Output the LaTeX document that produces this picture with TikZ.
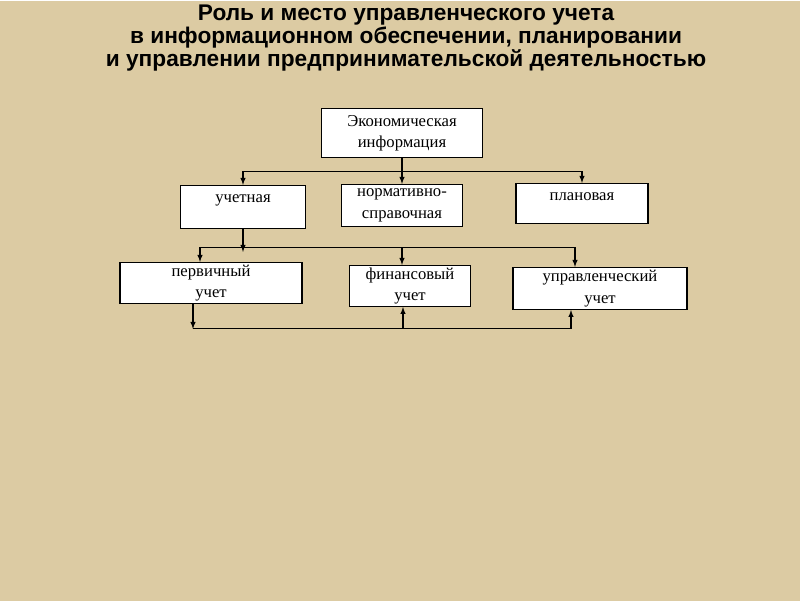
\documentclass[tikz,border=0pt]{standalone}
\usepackage{fontspec}
\setmainfont{Liberation Serif}
\newfontfamily\titlefont{Liberation Sans}
\usetikzlibrary{positioning}
\definecolor{paper}{HTML}{DCCBA3}
\begin{document}
\begin{tikzpicture}[x=0.75pt, y=-0.75pt, box/.style={draw, thick, fill=white, inner sep=0pt, align=center, font=\fontsize{12.5}{16}\selectfont}, arr/.style={thick, -latex}]
        \fill[paper] (0,0) rectangle (800,600);
        \node[align=center, font=\titlefont\bfseries\fontsize{17}{17.5}\selectfont] (title) at (406,37) {Роль и место управленческого учета\\в информационном обеспечении, планировании\\и управлении  предпринимательской деятельностью};

        \node[box, minimum width=0.75*161pt, minimum height=0.75*49pt] (econ) at (402,132) {Экономическая\\информация};
        \node[box, minimum width=0.75*125pt, minimum height=0.75*43pt, anchor=north] (acc) at (243,184) {\raisebox{12pt}{учетная}};
        \node[box, minimum width=0.75*121pt, minimum height=0.75*42pt, anchor=north] (norm) at (402,183) {нормативно-\\справочная};
        \node[box, minimum width=0.75*132pt, minimum height=0.75*40pt, anchor=north] (plan) at (582,182) {\raisebox{10pt}{плановая}};
        \node[box, minimum width=0.75*182pt, minimum height=0.75*41pt, anchor=north] (prim) at (211,261) {первичный\\учет};
        \node[box, minimum width=0.75*121pt, minimum height=0.75*41pt, anchor=north] (fin) at (410,264) {финансовый\\учет};
        \node[box, minimum width=0.75*174pt, minimum height=0.75*42pt, anchor=north] (mgmt) at (600,266) {управленческий\\учет};

        \coordinate (c1) at (402,171);
        \coordinate (c2) at (243,247);
        \coordinate (c3) at (193,328);
        \draw[thick] (econ) -- (c1);
        \draw[arr] (c1) -| (acc.north);
        \draw[arr] (c1) -- (norm);
        \draw[arr] (c1) -| (plan.north);
        \draw[arr] (acc) -- ([yshift=-3]c2);
        \draw[arr] (c2) -| (prim.north -| 200,0);
        \draw[arr] (c2) -| (fin.north -| 402,0);
        \draw[arr] (c2) -| (mgmt.north -| 575,0);
        \draw[arr] (prim.south -| c3) -- (c3);
        \draw[arr] (c3) -| (fin.south -| 403,0);
        \draw[arr] (c3) -| (mgmt.south -| 571,0);
\end{tikzpicture}
\end{document}
